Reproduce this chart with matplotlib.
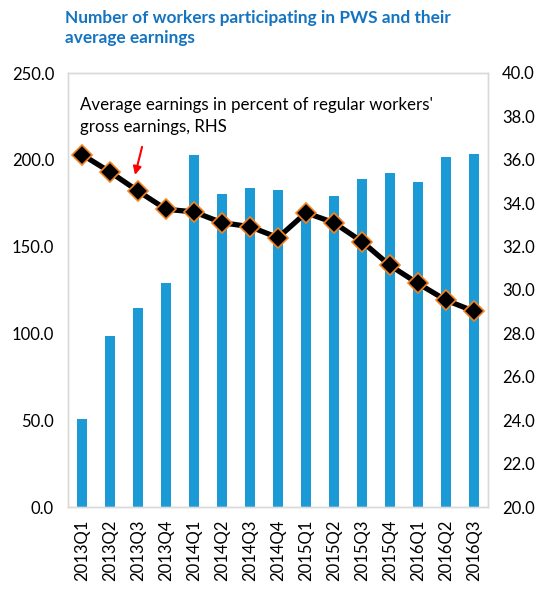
import matplotlib
matplotlib.use("Agg")
import matplotlib.pyplot as plt

categories = ["2013Q1", "2013Q2", "2013Q3", "2013Q4", "2014Q1", "2014Q2", "2014Q3", "2014Q4",
              "2015Q1", "2015Q2", "2015Q3", "2015Q4", "2016Q1", "2016Q2", "2016Q3"]
workers = [50.6, 98.7, 114.7, 129.1, 202.7, 180.3, 184.0, 182.6,
           170.0, 179.2, 189.0, 192.3, 187.5, 201.9, 203.4]
earnings = [36.24, 35.44, 34.56, 33.72, 33.6, 33.1, 32.92, 32.41,
            33.56, 33.1, 32.23, 31.13, 30.3, 29.53, 29.02]
left_ticks = [0, 50, 100, 150, 200, 250]
right_ticks = [20, 22, 24, 26, 28, 30, 32, 34, 36, 38, 40]

plt.rcParams['font.family'] = ['Lato', 'DejaVu Sans']

W, H = 541, 589
fig = plt.figure(figsize=(W / 100, H / 100), dpi=100)
ax = fig.add_axes([68 / W, 1 - 507 / H, (488 - 68) / W, (507 - 73) / H])
ax2 = ax.twinx()

x = list(range(len(categories)))
ax.bar(x, workers, width=0.33, color="#1B9AD6", zorder=2)
ax.set_ylim(0, 250)
ax.set_xlim(-0.5, len(categories) - 0.5)
ax.set_yticks(left_ticks)
ax.set_yticklabels([f"{v:.1f}" for v in left_ticks])
ax.set_xticks(x)
ax.set_xticklabels(categories, rotation=90)

ax2.plot(x, earnings, color="black", lw=3.8, marker="D", markersize=10,
         markerfacecolor="black", markeredgecolor="#F58220", markeredgewidth=1.2, zorder=3)
ax2.set_ylim(20, 40)
ax2.set_yticks(right_ticks)
ax2.set_yticklabels([f"{v:.1f}" for v in right_ticks])

for a in (ax, ax2):
    for s in a.spines.values():
        s.set_color("#D9D9D9")
        s.set_linewidth(1.0)
    a.tick_params(length=0, labelsize=12, colors="#000000", pad=10)
ax.tick_params(axis="x", pad=9)

ax2.annotate("", xy=(1.87, 35.18), xytext=(2.17, 36.72),
             arrowprops=dict(arrowstyle="-|>", color="#FF0000", lw=1.5, mutation_scale=12))

fig.text(80 / W, 1 - 116 / H, "Average earnings in percent of regular workers'\ngross earnings, RHS",
         fontsize=12.2, color="#000000", va="center", ha="left", linespacing=1.45)

fig.text(65 / W, 1 - 28 / H, "Number of workers participating in PWS and their\naverage earnings",
         fontsize=12.4, fontweight="bold", color="#1474C0", va="center", ha="left", linespacing=1.3)

fig.savefig("out.png", dpi=100)
